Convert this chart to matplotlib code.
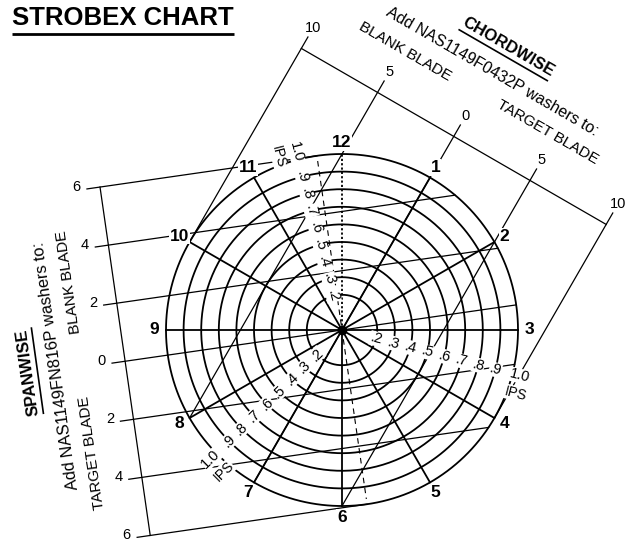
import matplotlib.pyplot as plt
import numpy as np

# ---- chart data ----
title = "STROBEX CHART"
clock_labels = ["1", "2", "3", "4", "5", "6", "7", "8", "9", "10", "11", "12"]
ring_values = [0.2, 0.3, 0.4, 0.5, 0.6, 0.7, 0.8, 0.9, 1.0]
ring_labels = [".2", ".3", ".4", ".5", ".6", ".7", ".8", ".9", "1.0"]
scale_angles = [104.5, -14.5, 224.5]      # where the IPS scales are written

# chordwise washer scale (10 units = 1 IPS ring radius)
chord_values = [10, 5, 0, -5, -10]
chord_labels = ["10", "5", "0", "5", "10"]
chord_text = ["CHORDWISE", "Add NAS1149F0432P washers to:", "BLANK BLADE", "TARGET BLADE"]

# spanwise washer scale (6 units = 1 IPS ring radius)
span_values = [6, 4, 2, 0, -2, -4, -6]
span_labels = ["6", "4", "2", "0", "2", "4", "6"]
span_text = ["SPANWISE", "Add NAS1149FN816P washers to:", "BLANK BLADE", "TARGET BLADE"]

plt.rcParams['font.family'] = ['Liberation Sans', 'DejaVu Sans']

R_PX = 176.0
CX, CY = 342.0, 330.0
W, H = 632, 543


def px(x, y):
    # picture pixel -> data units (ring radius 1.0)
    return (x - CX) / R_PX, (CY - y) / R_PX


fig = plt.figure(figsize=(W / 100, H / 100), dpi=100)
ax = fig.add_axes([0, 0, 1, 1])
ax.set_xlim(px(0, 0)[0], px(W, 0)[0])
ax.set_ylim(px(0, H)[1], px(0, 0)[1])
ax.set_aspect('equal')
ax.axis('off')
renderer = fig.canvas.get_renderer()


def underlined(xp, yp, s, rot, size, gap=3, lw=1.2):
    x, y = px(xp, yp)
    ax.text(x, y, s, rotation=rot, rotation_mode='anchor', ha='center',
            va='center', fontsize=size, fontweight='bold')
    tmp = ax.text(0, 0, s, fontsize=size, fontweight='bold')
    bb = tmp.get_window_extent(renderer)
    tmp.remove()
    a = np.radians(rot)
    along = np.array([np.cos(a), np.sin(a)])
    down = np.array([np.sin(a), -np.cos(a)])
    c = np.array([x, y]) + down * (bb.height / 2 + gap) / R_PX
    p0 = c - along * bb.width / 2 / R_PX
    p1 = c + along * bb.width / 2 / R_PX
    ax.plot([p0[0], p1[0]], [p0[1], p1[1]], color='black', lw=lw,
            solid_capstyle='butt')


# ---- rings ----
th = np.linspace(0, 2 * np.pi, 400)
for r in ring_values:
    ax.plot(r * np.cos(th), r * np.sin(th), color='black', lw=1.3, zorder=2)

# ---- clock spokes ----
for i, lab in enumerate(clock_labels):
    ang = np.radians(90 - 30 * (i + 1))
    ls = (0, (1.2, 1.2)) if lab == "12" else '-'
    ax.plot([0, np.cos(ang)], [0, np.sin(ang)], color='black', lw=1.3,
            linestyle=ls, zorder=2)
    ax.text(1.065 * np.cos(ang), 1.065 * np.sin(ang), lab, fontsize=12.5,
            fontweight='bold', ha='center', va='center', zorder=5,
            bbox=dict(facecolor='white', edgecolor='none', pad=0.5))
ax.plot([0], [0], 'o', color='black', markersize=6, zorder=4)

# dashed spanwise reference line
a = np.radians(98.2)
ax.plot([0.97 * np.cos(a), -0.97 * np.cos(a)], [0.97 * np.sin(a), -0.97 * np.sin(a)],
        color='black', lw=0.8, linestyle=(0, (5, 4)), zorder=2)


# ---- washer scales ----
def washer_scale(values, labels, full, u_deg, axis_d, lift=0.0):
    u = np.array([np.cos(np.radians(u_deg)), np.sin(np.radians(u_deg))])
    n = np.array([-u[1], u[0]])
    for v, lab in zip(values, labels):
        off = v / full
        far = -np.sqrt(max(0.0, 1 - off ** 2))
        p0 = off * n + far * u
        p1 = off * n + (axis_d + 0.075) * u
        ax.plot([p0[0], p1[0]], [p0[1], p1[1]], color='black', lw=0.9, zorder=1)
        pl = off * n + (axis_d + 0.135) * u
        ax.text(pl[0], pl[1] + lift, lab, fontsize=10.5, ha='center', va='center')
    a0 = n + axis_d * u
    a1 = -n + axis_d * u
    ax.plot([a0[0], a1[0]], [a0[1], a1[1]], color='black', lw=0.9, zorder=1)


washer_scale(chord_values, chord_labels, 10.0, 60.0, 1.27)
washer_scale(span_values, span_labels, 6.0, 188.2, 1.245, lift=3.5 / R_PX)

# ---- IPS scales ----
for ang in scale_angles:
    rot = ((ang + 90) % 180) - 90
    ar = np.radians(ang)
    for v, lab in zip(ring_values, ring_labels):
        rr = 1.045 if lab == "1.0" else v
        ax.text(rr * np.cos(ar), rr * np.sin(ar), lab, fontsize=10.5,
                rotation=rot, rotation_mode='anchor', ha='center', va='center',
                zorder=6, bbox=dict(facecolor='white', edgecolor='none', pad=0.2))
    rd = np.radians(rot)
    down = np.array([np.sin(rd), -np.cos(rd)]) * 18 / R_PX
    p = np.array([1.045 * np.cos(ar), 1.045 * np.sin(ar)]) + down
    ax.text(p[0], p[1], "IPS", fontsize=10, rotation=rot, rotation_mode='anchor',
            ha='center', va='center', zorder=6,
            bbox=dict(facecolor='white', edgecolor='none', pad=0.3))

# ---- titles / notes ----
underlined(123, 18, title, 0, 18.5, gap=4, lw=2)

underlined(508, 47, chord_text[0], -30, 12, gap=2, lw=1.2)
for (xp, yp), s in zip([(492, 72), (405, 52), (548, 132)], chord_text[1:]):
    x, y = px(xp, yp)
    ax.text(x, y, s, rotation=-30, rotation_mode='anchor', ha='center',
            va='center', fontsize=11.5 if s.startswith("Add") else 11)

underlined(28, 372, span_text[0], 98, 12, gap=2, lw=1.2)
for (xp, yp), s in zip([(56, 366), (69, 282), (92, 453)], span_text[1:]):
    x, y = px(xp, yp)
    ax.text(x, y, s, rotation=98, rotation_mode='anchor', ha='center',
            va='center', fontsize=11.8 if s.startswith("Add") else 11)

plt.savefig('out.png', dpi=100)
